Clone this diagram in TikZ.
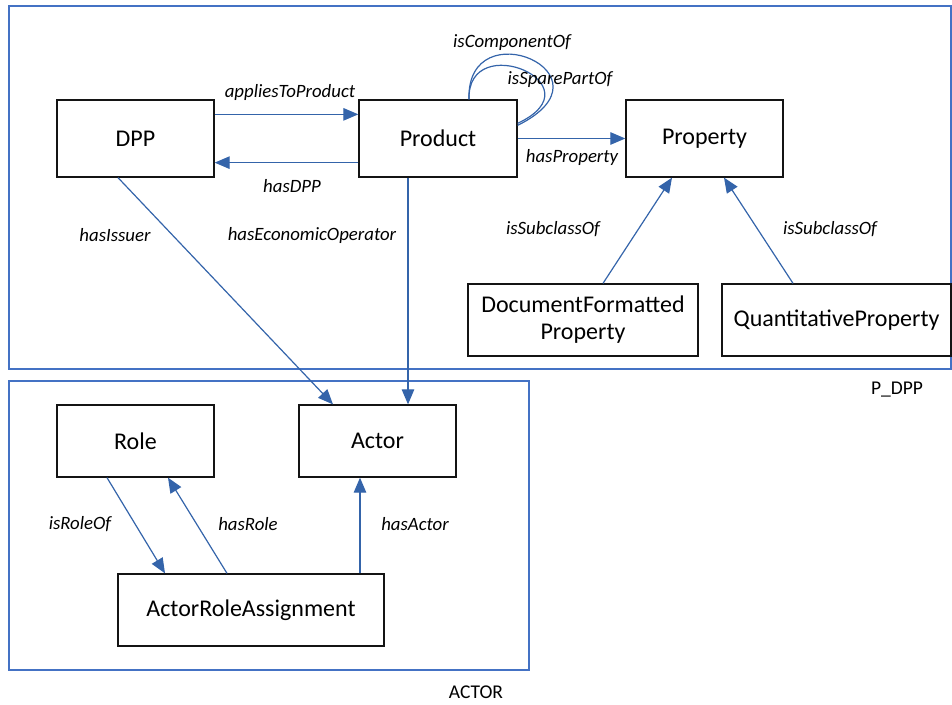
\documentclass[tikz,border=0pt]{standalone}
\usepackage{fontspec}
\setmainfont{Carlito}
\usetikzlibrary{arrows.meta,calc}
\definecolor{framecol}{RGB}{68,114,196}
\definecolor{arrcol}{RGB}{52,100,170}
\definecolor{boxcol}{RGB}{20,20,20}
\tikzset{
  cls/.style={draw=boxcol,line width=1.3pt,fill=white,inner sep=2pt,align=center,font=\fontsize{24}{27}\selectfont},
  rel/.style={draw=arrcol,line width=1.2pt,-{Triangle[length=15pt,width=12.5pt]}},
  loopline/.style={draw=arrcol,line width=1.2pt},
  lbl/.style={font=\fontsize{18.8}{21}\selectfont\itshape,inner sep=1pt},
  pkg/.style={draw=framecol,line width=1.2pt},
  pkglbl/.style={font=\fontsize{19.5}{22}\selectfont,inner sep=1pt}
}
\begin{document}
\begin{tikzpicture}[x=1pt,y=-1pt]
\useasboundingbox (0,0) rectangle (952,704);
% package frames
\draw[pkg] (9,6) rectangle (951,369);
\draw[pkg] (9,381) rectangle (529,670);
\node[pkglbl] (pdpp) at (897,390) {P\_DPP};
\node[pkglbl] (actorpkg) at (476,692) {ACTOR};
% classes
\node[cls,minimum width=157pt,minimum height=77pt] (dpp) at (135.5,138.5) {DPP};
\node[cls,minimum width=158pt,minimum height=77pt] (prod) at (438,138.5) {Product};
\node[cls,minimum width=157pt,minimum height=77pt] (prop) at (704.5,138.5) {Property};
\node[cls,minimum width=230pt,minimum height=72pt] (dfp) at (583,320) {DocumentFormatted\\Property};
\node[cls,minimum width=229pt,minimum height=72pt] (qp) at (836.5,320) {QuantitativeProperty};
\node[cls,minimum width=157pt,minimum height=72pt] (role) at (135.5,441) {Role};
\node[cls,minimum width=157pt,minimum height=72pt] (actor) at (377.5,441) {Actor};
\node[cls,minimum width=266pt,minimum height=72pt] (ara) at (251,610) {ActorRoleAssignment};
% relations
\draw[rel] ([yshift=-15pt]dpp.north east) -- ([yshift=-15pt]prod.north west);
\draw[rel] ([yshift=15pt]prod.south west) -- ([yshift=15pt]dpp.south east);
\draw[rel] (prod.east) -- (prop.west);
\draw[rel] ([xshift=-17.5pt]dpp.south) -- ([xshift=-44.5pt]actor.north);
\draw[rel] ([xshift=-30pt]prod.south) -- ([xshift=30.5pt]actor.north);
\draw[rel] ([xshift=20pt]dfp.north) -- ([xshift=-32.5pt]prop.south);
\draw[rel] ([xshift=-43.5pt]qp.north) -- ([xshift=19.5pt]prop.south);
\draw[rel] ([xshift=-28.5pt]role.south) -- ([xshift=-86pt]ara.north);
\draw[rel] ([xshift=-24pt]ara.north) -- ([xshift=32.5pt]role.south);
\draw[rel] ([xshift=109pt]ara.north) -- ([xshift=-17.5pt]actor.south);
% self loops
\draw[loopline] ([xshift=31pt]prod.north) .. controls +(-3,-91) and +(103,-51) .. ([yshift=-26pt]prod.north east);
\draw[loopline] ([xshift=31pt]prod.north) .. controls +(-2,-71) and +(83,-39) .. ([yshift=-24pt]prod.north east);
% labels
\node[lbl] (l1) at (290,92) {appliesToProduct};
\node[lbl] (l2) at (292,186) {hasDPP};
\node[lbl] (l3) at (572,157) {hasProperty};
\node[lbl] (l4) at (512,43) {isComponentOf};
\node[lbl] (l5) at (560,80) {isSparePartOf};
\node[lbl] (l6) at (115,235) {hasIssuer};
\node[lbl] (l7) at (312,235) {hasEconomicOperator};
\node[lbl] (l8) at (553,229) {isSubclassOf};
\node[lbl] (l9) at (830,229) {isSubclassOf};
\node[lbl] (l10) at (80,524) {isRoleOf};
\node[lbl] (l11) at (248,524) {hasRole};
\node[lbl] (l12) at (415,524) {hasActor};
\end{tikzpicture}
\end{document}
